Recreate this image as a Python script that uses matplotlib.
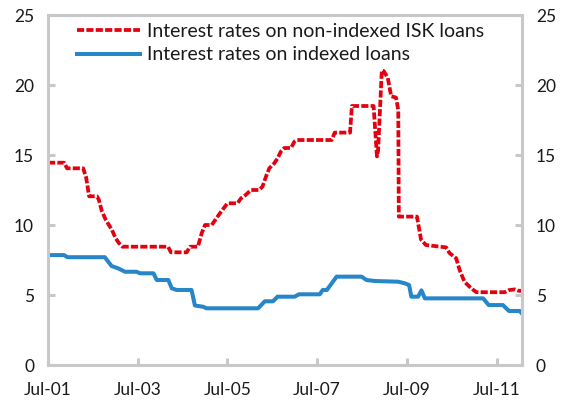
import matplotlib
matplotlib.use("Agg")
import matplotlib.pyplot as plt

# months since Jul-2001 and values (%)
red_months = [0, 4.3, 5.1, 9.4, 10.2, 11.0, 13.1, 13.6, 14.4, 15.4, 17.1, 18.1, 19.0, 19.9,
              32.1, 32.9, 37.1, 38.0, 40.1, 41.1, 42.0, 43.8, 45.1, 46.3, 48.0, 50.7, 51.6,
              52.9, 54.3, 56.5, 57.4, 58.3, 59.2, 60.5, 61.4, 62.3, 63.2, 65.0, 65.9, 66.6,
              75.9, 76.7, 80.8, 81.3, 87.1, 88.0, 88.3, 89.3, 89.8, 90.9, 91.8, 93.1, 93.7,
              93.85, 98.7, 99.8, 101.1, 106.5, 107.4, 109.2, 110.1, 111.4, 113.2, 114.6,
              122.2, 123.3, 124.9, 125.9, 126.8]
red_values = [14.45, 14.45, 14.05, 14.05, 13.4, 12.05, 12.05, 11.8, 11.0, 10.4, 9.65, 9.05, 8.7, 8.45,
              8.45, 8.05, 8.05, 8.45, 8.45, 9.4, 10.0, 10.0, 10.5, 10.95, 11.55, 11.55, 11.9,
              12.15, 12.5, 12.5, 12.75, 13.45, 14.05, 14.4, 14.75, 15.25, 15.5, 15.5, 15.95, 16.07,
              16.07, 16.6, 16.6, 18.5, 18.5, 14.9, 15.3, 21.05, 21.0, 20.5, 19.2, 19.1, 18.2,
              10.6, 10.6, 8.95, 8.57, 8.4, 8.0, 7.62, 6.8, 5.95, 5.48, 5.2,
              5.2, 5.35, 5.4, 5.3, 5.3]

blue_months = [0, 4.3, 5.2, 15.2, 17.0, 18.8, 20.6, 23.7, 24.6, 28.2, 29.1, 32.2, 33.1, 34.4,
               38.4, 39.3, 41.5, 42.4, 56.2, 58.0, 60.2, 61.4, 66.0, 67.1, 72.7, 73.5, 74.6,
               77.2, 83.9, 85.2, 87.4, 93.7, 95.5, 96.6, 97.2, 99.0, 99.9, 100.8, 116.4,
               117.9, 121.7, 123.3, 126.2, 126.8]
blue_values = [7.85, 7.85, 7.7, 7.7, 7.07, 6.9, 6.66, 6.66, 6.55, 6.55, 6.07, 6.07, 5.48, 5.36,
               5.36, 4.25, 4.16, 4.05, 4.05, 4.55, 4.55, 4.88, 4.88, 5.05, 5.05, 5.36, 5.36,
               6.31, 6.31, 6.07, 6.0, 5.95, 5.83, 5.71, 4.88, 4.88, 5.33, 4.76, 4.76,
               4.28, 4.28, 3.86, 3.86, 3.67]

tick_months = [0, 24, 48, 72, 96, 120]
tick_labels = ["Jul-01", "Jul-03", "Jul-05", "Jul-07", "Jul-09", "Jul-11"]
y_ticks = [0, 5, 10, 15, 20, 25]

plt.rcParams['font.family'] = ['Lato', 'DejaVu Sans']

fig = plt.figure(figsize=(5.65, 4.08), dpi=100)
ax = fig.add_axes([48/565, 1-365/408, (522-48)/565, (365-15)/408])

ax.plot(red_months, red_values, color="#E3000F", lw=2.7, ls=(0, (1.9, 0.6)),
        label="Interest rates on non-indexed ISK loans", dash_capstyle='butt')
ax.plot(blue_months, blue_values, color="#2686C8", lw=2.9,
        label="Interest rates on indexed loans")

ax.set_xlim(0, 126.8)
ax.set_ylim(0, 25)
ax.set_xticks(tick_months)
ax.set_xticklabels(tick_labels)
ax.set_yticks(y_ticks)

gray = "#C8C8C8"
for s in ax.spines.values():
    s.set_color(gray)
    s.set_linewidth(2.2)
ax.tick_params(axis='both', direction='in', color=gray, width=2.2, length=5,
               labelsize=12.5, labelcolor="#1a1a1a")
ax.tick_params(axis='x', pad=12)
ax.tick_params(axis='y', left=True, right=True, labelleft=True, labelright=True, pad=10)

leg = ax.legend(loc='upper left', bbox_to_anchor=(0.061, 0.977), frameon=False, fontsize=14,
                handlelength=3.25, handletextpad=0.35, labelspacing=0.33, borderaxespad=0,
                borderpad=0)
for t in leg.get_texts():
    t.set_color("#1a1a1a")

fig.savefig("out.png", dpi=100)
